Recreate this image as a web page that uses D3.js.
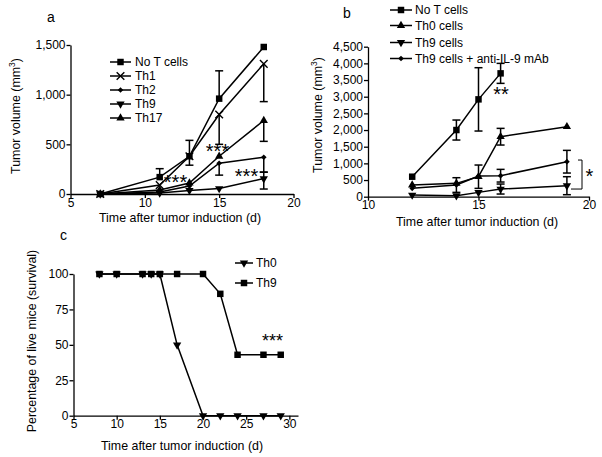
<!DOCTYPE html>
<html><head><meta charset="utf-8">
<script src="https://cdn.jsdelivr.net/npm/d3@7"></script>
<style>
body{margin:0;background:#fff}
svg{display:block;font-family:"Liberation Sans",Arial,sans-serif}
</style>
</head><body>
<svg id="chart" width="602" height="457"></svg>
<script>
// ---------- Panel a data ----------
const daysA = [7, 11, 13, 15, 18];
const namesA = ["No T cells", "Th1", "Th2", "Th9", "Th17"];
const aNoT   = [0, 170, 380, 960, 1480];
const aNoTUp = [0, 85, 160, 280, 0];
const aNoTDn = [0, 0, 90, 0, 0];
const aTh1   = [0, 90, 380, 800, 1310];
const aTh1Up = [0, 0, 0, 0, 0];
const aTh1Dn = [0, 0, 0, 300, 380];
const aTh2   = [0, 20, 80, 310, 370];
const aTh2Up = [0, 0, 0, 0, 0];
const aTh2Dn = [0, 0, 0, 120, 150];
const aTh9   = [0, 10, 35, 55, 155];
const aTh9Up = [0, 0, 0, 0, 65];
const aTh9Dn = [0, 0, 0, 0, 105];
const aTh17   = [0, 40, 110, 380, 740];
const aTh17Up = [0, 0, 0, 0, 0];
const aTh17Dn = [0, 0, 0, 0, 210];
const ticksAx = [5, 10, 15, 20];
const ticksAy = [0, 500, 1000, 1500];

// ---------- Panel b data ----------
const daysBNoT = [12, 14, 15, 16];
const daysB = [12, 14, 15, 16, 19];
const namesB = ["No T cells", "Th0 cells", "Th9 cells", "Th9 cells + anti-IL-9 mAb"];
const bNoT    = [600, 2000, 2920, 3700];
const bNoTErr = [0, 300, 950, 300];
const bTh0    = [350, 400, 600, 1800, 2100];
const bTh0Err = [0, 0, 350, 250, 0];
const bTh9    = [50, 30, 130, 230, 330];
const bTh9Err = [0, 0, 0, 150, 270];
const bAnti    = [250, 350, 620, 630, 1050];
const bAntiErr = [0, 220, 0, 190, 340];
const ticksBx = [10, 15, 20];
const ticksBy = [0, 500, 1000, 1500, 2000, 2500, 3000, 3500, 4000, 4500];
const bracketB = [230, 1100];

// ---------- Panel c data ----------
const daysC = [8, 10, 13, 14, 15, 17, 20, 22, 24, 27, 29];
const namesC = ["Th0", "Th9"];
const cTh0 = [100, 100, 100, 100, 100, 50, 0, 0, 0, 0, 0];
const cTh9 = [100, 100, 100, 100, 100, 100, 100, 86, 43, 43, 43];
const ticksCx = [5, 10, 15, 20, 25, 30];
const ticksCy = [0, 25, 50, 75, 100];

// ---------- helpers ----------
const svg = d3.select("#chart");
const TICK_FS = 12, TITLE_FS = 12.4, LEG_FS = 12;

function marker(g, type, x, y) {
  let p;
  if (type === "square") {
    p = g.append("path").attr("d", d3.symbol(d3.symbolSquare, 42)()).attr("fill", "#000");
  } else if (type === "diamond") {
    p = g.append("path").attr("d", d3.symbol(d3.symbolSquare, 16)()).attr("fill", "#000");
    p.attr("transform", `translate(${x},${y}) rotate(45)`); return;
  } else if (type === "up") {
    p = g.append("path").attr("d", d3.symbol(d3.symbolTriangle, 30)()).attr("fill", "#000");
  } else if (type === "down") {
    p = g.append("path").attr("d", d3.symbol(d3.symbolTriangle, 30)()).attr("fill", "#000");
    p.attr("transform", `translate(${x},${y}) rotate(180)`); return;
  } else if (type === "x") {
    p = g.append("path").attr("d", d3.symbol(d3.symbolX, 40)()).attr("fill", "none")
      .attr("stroke", "#000").attr("stroke-width", 1.4);
  }
  p.attr("transform", `translate(${x},${y})`);
}

function drawAxes(g, x, y, xt, yt, yFmt) {
  const ax = g.append("g").attr("transform", `translate(0,${y.range()[0]})`)
    .call(d3.axisBottom(x).tickValues(xt).tickFormat(d3.format("d")).tickSize(4).tickPadding(0).tickSizeOuter(0));
  const ay = g.append("g").attr("transform", `translate(${x.range()[0]},0)`)
    .call(d3.axisLeft(y).tickValues(yt).tickFormat(yFmt).tickSize(4).tickPadding(1).tickSizeOuter(0));
  [ax, ay].forEach(a => {
    a.selectAll("path,line").attr("stroke", "#000").attr("stroke-width", 1.3);
    a.selectAll("text").attr("font-size", TICK_FS).attr("fill", "#000").attr("font-family", "Liberation Sans, Arial, sans-serif");
  });
}

function drawSeries(g, x, y, days, vals, up, dn, type) {
  const line = d3.line().x((d, i) => x(days[i])).y(d => y(d));
  g.append("path").datum(vals).attr("d", line).attr("fill", "none")
    .attr("stroke", "#000").attr("stroke-width", 1.5);
  vals.forEach((v, i) => {
    const cx = x(days[i]);
    if (up && up[i] > 0) {
      g.append("line").attr("x1", cx).attr("x2", cx).attr("y1", y(v)).attr("y2", y(v + up[i]))
        .attr("stroke", "#000").attr("stroke-width", 1.5);
      g.append("line").attr("x1", cx - 4).attr("x2", cx + 4).attr("y1", y(v + up[i])).attr("y2", y(v + up[i]))
        .attr("stroke", "#000").attr("stroke-width", 1.5);
    }
    if (dn && dn[i] > 0) {
      g.append("line").attr("x1", cx).attr("x2", cx).attr("y1", y(v)).attr("y2", y(v - dn[i]))
        .attr("stroke", "#000").attr("stroke-width", 1.5);
      g.append("line").attr("x1", cx - 4).attr("x2", cx + 4).attr("y1", y(v - dn[i])).attr("y2", y(v - dn[i]))
        .attr("stroke", "#000").attr("stroke-width", 1.5);
    }
  });
  vals.forEach((v, i) => marker(g, type, x(days[i]), y(v)));
}

function legend(g, names, types, x1, x2, tx, rows) {
  names.forEach((n, i) => {
    g.append("line").attr("x1", x1).attr("x2", x2).attr("y1", rows[i]).attr("y2", rows[i])
      .attr("stroke", "#000").attr("stroke-width", 1.5);
    marker(g, types[i], (x1 + x2) / 2, rows[i]);
    g.append("text").attr("x", tx).attr("y", rows[i]).attr("dy", "0.36em")
      .attr("font-size", LEG_FS).text(n);
  });
}

function xTitle(g, cx, by, txt) {
  g.append("text").attr("x", cx).attr("y", by).attr("text-anchor", "middle")
    .attr("font-size", TITLE_FS).text(txt);
}
function yTitleTumor(g, bx, cy) {
  const t = g.append("text").attr("transform", `translate(${bx},${cy}) rotate(-90)`)
    .attr("text-anchor", "middle").attr("font-size", TITLE_FS);
  t.append("tspan").text("Tumor volume (mm");
  t.append("tspan").attr("dy", -5).attr("font-size", 8.5).text("3");
  t.append("tspan").attr("dy", 5).text(")");
}
function stars(g, cx, cy, s, fs) {
  g.append("text").attr("x", cx).attr("y", cy + 0.57 * fs).attr("text-anchor", "middle")
    .attr("font-size", fs).attr("letter-spacing", 0).text(s);
}

// ---------- Panel a ----------
{
  const g = svg.append("g");
  const x = d3.scaleLinear().domain([5, 20]).range([70.5, 293.5]);
  const y = d3.scaleLinear().domain([0, 1500]).range([194, 45]);
  drawAxes(g, x, y, ticksAx, ticksAy, d3.format(","));
  drawSeries(g, x, y, daysA, aTh9, aTh9Up, aTh9Dn, "down");
  drawSeries(g, x, y, daysA, aTh2, aTh2Up, aTh2Dn, "diamond");
  drawSeries(g, x, y, daysA, aTh17, aTh17Up, aTh17Dn, "up");
  drawSeries(g, x, y, daysA, aTh1, aTh1Up, aTh1Dn, "x");
  drawSeries(g, x, y, daysA, aNoT, aNoTUp, aNoTDn, "square");
  legend(g, namesA, ["square", "x", "diamond", "down", "up"], 110, 131, 135, [62, 76, 90, 104, 118]);
  stars(g, 175.5, 178, "***", 20);
  stars(g, 217.5, 147, "***", 20);
  stars(g, 246.5, 172, "***", 20);
  xTitle(g, 180, 221.5, "Time after tumor induction (d)");
  yTitleTumor(g, 20, 116);
  g.append("text").attr("x", 47).attr("y", 22).attr("font-size", 14).text("a");
}

// ---------- Panel b ----------
{
  const g = svg.append("g");
  const x = d3.scaleLinear().domain([10, 20]).range([368, 589]);
  const y = d3.scaleLinear().domain([0, 4500]).range([196.7, 46.7]);
  drawAxes(g, x, y, ticksBx, ticksBy, d3.format(","));
  drawSeries(g, x, y, daysB, bTh9, bTh9Err, bTh9Err, "down");
  drawSeries(g, x, y, daysB, bAnti, bAntiErr, bAntiErr, "diamond");
  drawSeries(g, x, y, daysB, bTh0, bTh0Err, bTh0Err, "up");
  drawSeries(g, x, y, daysBNoT, bNoT, bNoTErr, bNoTErr, "square");
  legend(g, namesB, ["square", "up", "down", "diamond"], 390, 412, 415, [10, 25.5, 42.5, 58.5]);
  const bx = 582;
  g.append("path")
    .attr("d", `M${bx - 4},${y(bracketB[1])}H${bx}V${y(bracketB[0])}H${bx - 11}`)
    .attr("fill", "none").attr("stroke", "#000").attr("stroke-width", 1);
  stars(g, 589.5, 172, "*", 20);
  stars(g, 501, 90, "**", 20);
  xTitle(g, 477, 226, "Time after tumor induction (d)");
  yTitleTumor(g, 322, 115);
  g.append("text").attr("x", 343).attr("y", 18).attr("font-size", 14).text("b");
}

// ---------- Panel c ----------
{
  const g = svg.append("g");
  const x = d3.scaleLinear().domain([5, 31]).range([73.5, 298]);
  const y = d3.scaleLinear().domain([0, 100]).range([415.7, 274]);
  drawAxes(g, x, y, ticksCx, ticksCy, d3.format("d"));
  drawSeries(g, x, y, daysC, cTh0, null, null, "down");
  drawSeries(g, x, y, daysC, cTh9, null, null, "square");
  legend(g, namesC, ["down", "square"], 235, 253, 256, [263, 283]);
  stars(g, 272.5, 337, "***", 18);
  xTitle(g, 182, 449.5, "Time after tumor induction (d)");
  g.append("text").attr("transform", `translate(36,341) rotate(-90)`)
    .attr("text-anchor", "middle").attr("font-size", TITLE_FS).text("Percentage of live mice (survival)");
  g.append("text").attr("x", 60).attr("y", 240).attr("font-size", 14).text("c");
}
</script>
</body></html>
